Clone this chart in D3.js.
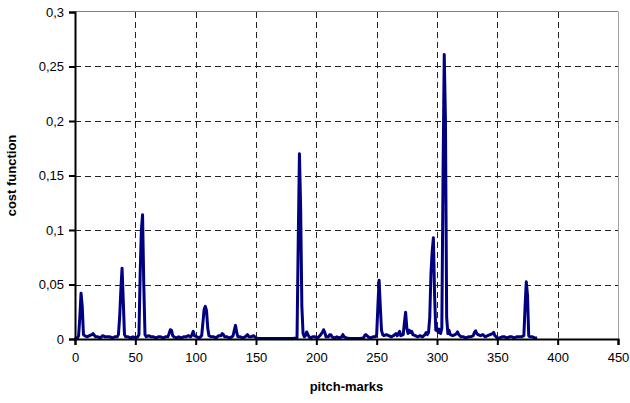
<!DOCTYPE html>
<html>
<head>
<meta charset="utf-8">
<script src="https://cdn.jsdelivr.net/npm/d3@7"></script>
<style>
  html, body { margin: 0; padding: 0; background: #fff; }
  svg { display: block; font-family: "Liberation Sans", Arial, sans-serif; }
</style>
</head>
<body>
<svg id="chart" width="630" height="403"></svg>
<script>
// ---- data ----
const pitchMarks = [0,1,2,3,4,5,6,7,8,10,12,14,15,17,19,21,23,25,27,29,31,33,35,36,37,38,39,40,41,42,44,46,48,50,52,53,54,55,56,57,58,59,61,63,65,67,69,71,73,75,77,78,79,80,81,82,84,86,88,90,92,94,96,97,98,99,101,103,105,106,107,108,109,110,111,113,115,117,119,121,122,123,124,126,128,130,131,132,133,134,135,137,139,141,142,143,144,146,148,149,150,152,160,170,180,184,185,186,187,188,189,190,191,192,193,194,195,197,199,201,203,205,206,207,208,210,211,212,213,215,217,219,221,222,223,225,228,232,236,239,240,241,242,243,245,247,249,250,251,252,253,254,255,256,258,260,262,264,266,267,268,269,270,272,273,274,275,276,277,278,279,280,282,284,286,288,290,291,292,293,294,295,296,297,298,299,300,301,302,303,304,305,306,307,308,309,310,311,313,315,316,317,318,320,322,324,326,328,330,331,332,333,334,336,338,340,342,344,346,347,348,350,352,354,356,358,360,362,364,366,368,370,372,373,374,375,376,377,379,381,383];
const costValues = [0,0.001,0.001,0.003,0.02,0.042,0.03,0.004,0.003,0.002,0.003,0.004,0.005,0.002,0.002,0.001,0.003,0.002,0.002,0.002,0.001,0.002,0.002,0.004,0.02,0.045,0.065,0.035,0.004,0.002,0.002,0.001,0.002,0.001,0.002,0.004,0.06,0.1,0.114,0.05,0.004,0.002,0.003,0.002,0.002,0.001,0.002,0.002,0.001,0.002,0.002,0.005,0.0085,0.008,0.003,0.002,0.001,0.002,0.001,0.002,0.002,0.003,0.002,0.004,0.007,0.003,0.002,0.001,0.003,0.015,0.027,0.03,0.026,0.01,0.003,0.002,0.002,0.001,0.003,0.003,0.005,0.004,0.002,0.002,0.001,0.002,0.003,0.008,0.0125,0.006,0.002,0.002,0.001,0.002,0.003,0.004,0.002,0.002,0.003,0.002,0.001,0.0005,0.0005,0.0005,0.0005,0.001,0.09,0.17,0.12,0.03,0.005,0.002,0.003,0.0065,0.004,0.002,0.001,0.002,0.002,0.001,0.003,0.006,0.0085,0.006,0.002,0.002,0.004,0.004,0.002,0.001,0.002,0.001,0.002,0.004,0.002,0.001,0.0005,0.0005,0.0005,0.001,0.003,0.004,0.003,0.002,0.001,0.002,0.002,0.004,0.03,0.054,0.03,0.008,0.004,0.003,0.004,0.003,0.002,0.003,0.005,0.003,0.005,0.007,0.003,0.004,0.015,0.0245,0.01,0.005,0.008,0.006,0.007,0.004,0.003,0.002,0.003,0.002,0.004,0.006,0.004,0.006,0.02,0.06,0.08,0.093,0.04,0.008,0.01,0.006,0.009,0.005,0.01,0.15,0.261,0.2,0.02,0.005,0.008,0.004,0.003,0.004,0.005,0.0065,0.004,0.002,0.002,0.001,0.002,0.002,0.003,0.006,0.0075,0.005,0.004,0.003,0.004,0.002,0.003,0.004,0.005,0.006,0.003,0.001,0.001,0.002,0.002,0.001,0.002,0.002,0.001,0.002,0.002,0.002,0.003,0.03,0.0525,0.04,0.003,0.002,0.002,0.001,0.001];
const xTicks = [0,50,100,150,200,250,300,350,400,450];
const yTicks = [0,0.05,0.1,0.15,0.2,0.25,0.3];
const xLabel = "pitch-marks";
const yLabel = "cost function";

// ---- layout ----
const mLeft = 75, mRight = 618, mTop = 12, mBottom = 339;
const svg = d3.select("#chart");
const x = d3.scaleLinear().domain([0, 450]).range([mLeft, mRight]);
const y = d3.scaleLinear().domain([0, 0.3]).range([mBottom, mTop]);
const fmt = d => String(d).replace(".", ",");

// gridlines
const grid = svg.append("g");
grid.selectAll("line.v").data(xTicks.filter(d => d > 0 && d < 450)).enter().append("line")
  .attr("x1", d => Math.round(x(d)) + 0.5).attr("x2", d => Math.round(x(d)) + 0.5)
  .attr("y1", mTop).attr("y2", mBottom)
  .attr("stroke", "#222").attr("stroke-width", 1).attr("stroke-dasharray", "6,4");
grid.selectAll("line.h").data(yTicks.filter(d => d > 0 && d < 0.3)).enter().append("line")
  .attr("x1", mLeft).attr("x2", mRight)
  .attr("y1", d => Math.round(y(d)) + 0.5).attr("y2", d => Math.round(y(d)) + 0.5)
  .attr("stroke", "#222").attr("stroke-width", 1).attr("stroke-dasharray", "6,4");

// top and right frame (gray)
svg.append("line").attr("x1", mLeft).attr("x2", mRight).attr("y1", mTop - 0.5).attr("y2", mTop - 0.5)
  .attr("stroke", "#808080").attr("stroke-width", 1);
svg.append("line").attr("x1", mRight + 0.5).attr("x2", mRight + 0.5).attr("y1", mTop - 0.5).attr("y2", mBottom)
  .attr("stroke", "#a0a0a0").attr("stroke-width", 1);

// data line
const pts = pitchMarks.map((p, i) => [p, costValues[i]]);
svg.append("path").datum(pts)
  .attr("fill", "none").attr("stroke", "#000080").attr("stroke-width", 3)
  .attr("stroke-linejoin", "round")
  .attr("d", d3.line().x(d => x(d[0])).y(d => y(d[1])));

// axes
const xAxis = d3.axisBottom(x).tickValues(xTicks).tickFormat(fmt).tickSize(6).tickPadding(8);
const yAxis = d3.axisLeft(y).tickValues(yTicks).tickFormat(fmt).tickSize(6).tickPadding(5);
const gx = svg.append("g").attr("transform", `translate(0,${mBottom})`).call(xAxis);
const gy = svg.append("g").attr("transform", `translate(${mLeft},0)`).call(yAxis);
[gx, gy].forEach(g => {
  g.select(".domain").attr("stroke", "#000").attr("stroke-width", 2);
  g.selectAll(".tick line").attr("stroke", "#000").attr("stroke-width", 2);
  g.selectAll(".tick text").attr("font-size", 13).attr("fill", "#000")
    .attr("font-family", "'Liberation Sans', Arial, sans-serif");
});

// axis labels
svg.append("text").attr("x", (mLeft + mRight) / 2).attr("y", 391)
  .attr("text-anchor", "middle").attr("font-size", 13).attr("font-weight", "bold")
  .text(xLabel);
svg.append("text").attr("transform", `translate(16,${(mTop + mBottom) / 2}) rotate(-90)`)
  .attr("text-anchor", "middle").attr("font-size", 13).attr("font-weight", "bold")
  .text(yLabel);
</script>
</body>
</html>
